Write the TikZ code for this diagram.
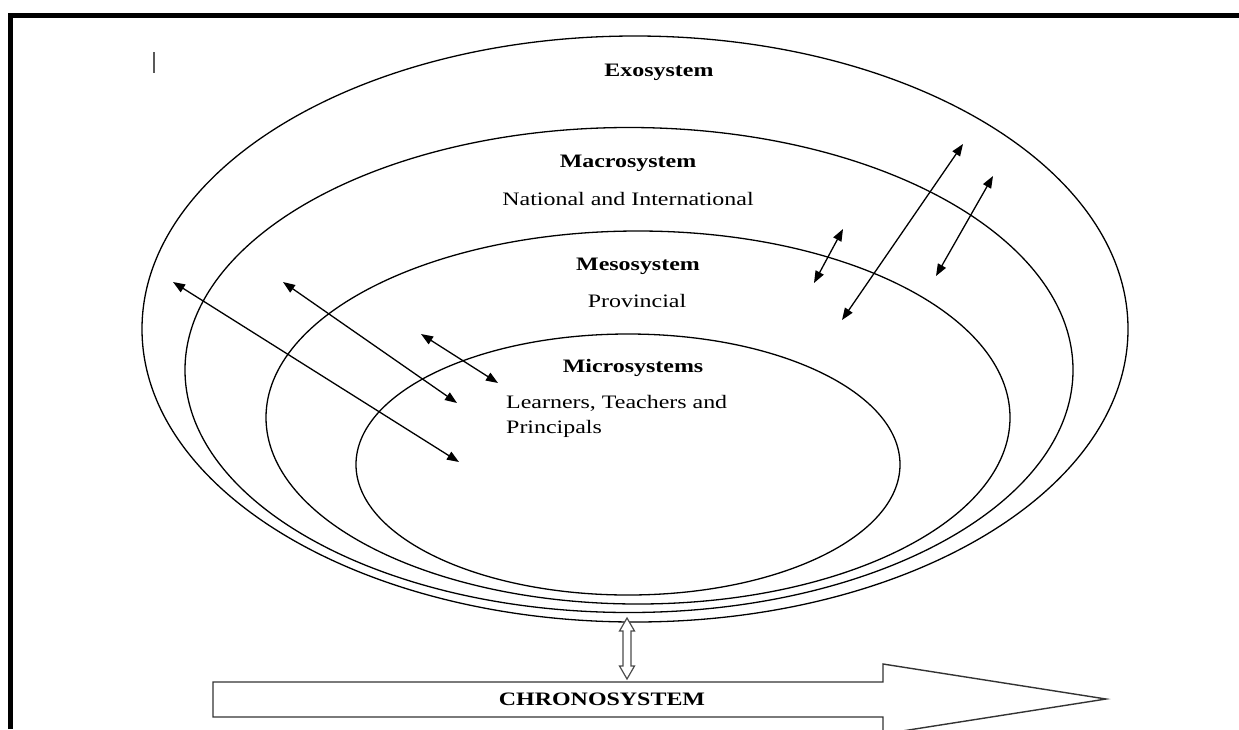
\documentclass[tikz,border=0pt]{standalone}
\usepackage{fontspec}
\setmainfont{Liberation Serif}[FakeStretch=1.26]
\usetikzlibrary{arrows.meta,shapes.geometric}
\begin{document}
\begin{tikzpicture}[x=1pt,y=-1pt,
  ring/.style={draw=black,line width=1.3pt,ellipse,inner sep=0pt},
  lbl/.style={inner sep=0pt,font=\fontsize{19}{25}\selectfont},
  blbl/.style={inner sep=0pt,font=\fontsize{19}{25}\selectfont\bfseries},
  twoway/.style={line width=1.3pt,{Triangle[length=12pt,width=9pt]}-{Triangle[length=12pt,width=9pt]}},
  frame/.style={line width=5pt,black},
  bigarrow/.style={draw=black!80,line width=1.4pt,line join=miter}
]
\useasboundingbox (0,0) rectangle (1239,729);
% frame
\draw[frame] (10.5,729) -- (10.5,15.5) -- (1239,15.5);
% cursor mark
\coordinate (c1) at (154,52);
\coordinate (c2) at (154,73);
\draw[line width=2pt,black!65] (c1) -- (c2);

% rings
\node[ring,minimum width=986pt,minimum height=586pt] (exo) at (635,329) {};
\node[ring,minimum width=888pt,minimum height=485pt] (macro) at (629,370) {};
\node[ring,minimum width=744pt,minimum height=373pt] (meso) at (638,417.5) {};
\node[ring,minimum width=544pt,minimum height=261pt] (micro) at (628,464.5) {};

% labels
\node[blbl] (texo) at (659,72) {Exosystem};
\node[blbl] (tmacro) at (628,163) {Macrosystem};
\node[lbl] (tmacro2) at (628,199) {National and International};
\node[blbl] (tmeso) at (638,266) {Mesosystem};
\node[lbl] (tmeso2) at (637,301) {Provincial};
\node[blbl] (tmicro) at (633,368) {Microsystems};
\node[lbl,align=left,anchor=west] (tmicro2) at (506,416) {Learners, Teachers and\\Principals};

% two-way arrows
\coordinate (a1s) at (173,282); \coordinate (a1e) at (459,462);
\coordinate (a2s) at (283,282); \coordinate (a2e) at (457,403);
\coordinate (a3s) at (421,334); \coordinate (a3e) at (498,383);
\coordinate (a4s) at (843,229); \coordinate (a4e) at (814,283);
\coordinate (a5s) at (963,144); \coordinate (a5e) at (842,320);
\coordinate (a6s) at (993,176); \coordinate (a6e) at (936,276);
\draw[twoway] (a1s) -- (a1e);
\draw[twoway] (a2s) -- (a2e);
\draw[twoway] (a3s) -- (a3e);
\draw[twoway] (a4s) -- (a4e);
\draw[twoway] (a5s) -- (a5e);
\draw[twoway] (a6s) -- (a6e);

% hollow double arrow
\draw[draw=black!70,line width=1.2pt,fill=white,line join=miter]
  (627,618) -- (634.5,631) -- (631,631) -- (631,666) -- (634.5,666) -- (627,679)
  -- (619.5,666) -- (623,666) -- (623,631) -- (619.5,631) -- cycle;

% chronosystem arrow
\draw[bigarrow] (213,682) -- (883,682) -- (883,664) -- (1106,699) -- (883,734)
  -- (883,717) -- (213,717) -- cycle;
\node[blbl] (tchrono) at (602,699) {CHRONOSYSTEM};
\end{tikzpicture}
\end{document}
